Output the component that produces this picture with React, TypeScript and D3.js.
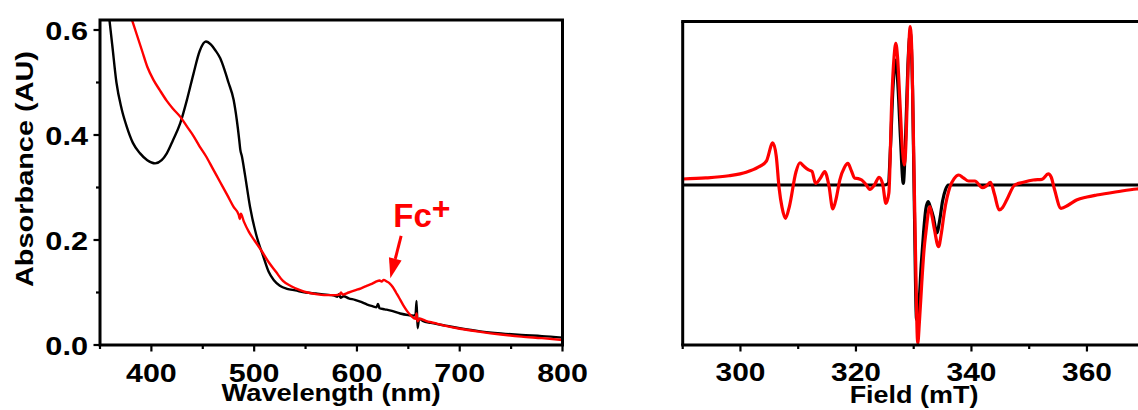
import React from "react";
import * as d3 from "d3";

// UV-vis spectra: neutral complex (black) and after oxidation with Fc+ (red)
const neutralNm = [358, 362, 366, 371, 376, 382, 389, 396, 403.6, 410, 415, 421, 428, 435, 441, 447, 453, 458, 462, 467, 471, 475, 480, 483, 485.5, 486.5, 488, 491, 496, 502, 509, 514, 519, 525, 532, 540, 550, 560, 570, 578, 581, 582.5, 584, 587, 592, 598, 604, 610, 615, 619, 620.5, 622, 627, 634, 642, 650, 655, 657, 658, 659, 660.5, 664, 672, 686, 700, 720, 740, 760, 780, 800];
const neutralAbs = [0.64, 0.57, 0.5, 0.45, 0.416, 0.385, 0.365, 0.352, 0.346, 0.352, 0.365, 0.39, 0.422, 0.47, 0.517, 0.56, 0.578, 0.572, 0.562, 0.546, 0.525, 0.5, 0.467, 0.43, 0.39, 0.372, 0.36, 0.325, 0.263, 0.21, 0.168, 0.14, 0.124, 0.113, 0.107, 0.104, 0.1, 0.098, 0.096, 0.094, 0.092, 0.097, 0.09, 0.093, 0.089, 0.086, 0.082, 0.077, 0.074, 0.072, 0.078, 0.07, 0.068, 0.065, 0.06, 0.057, 0.056, 0.058, 0.084, 0.032, 0.05, 0.046, 0.042, 0.037, 0.032, 0.026, 0.022, 0.019, 0.017, 0.014];

const oxidizedNm = [381, 386, 391, 396, 402, 408, 415, 421, 428, 435, 441, 447, 453, 460, 467, 474, 480, 485, 486, 487, 490, 495, 500, 507, 514, 521, 528, 536, 544, 552, 560, 568, 576, 583, 584.5, 586, 592, 598, 604, 610, 615, 619, 622, 624, 626, 629, 632, 635, 638, 641, 645, 649, 653, 657, 658, 659, 661, 667, 675, 685, 700, 720, 740, 760, 780, 800];
const oxidizedAbs = [0.62, 0.59, 0.56, 0.53, 0.505, 0.486, 0.465, 0.45, 0.435, 0.415, 0.398, 0.378, 0.36, 0.335, 0.31, 0.285, 0.263, 0.248, 0.24, 0.25, 0.235, 0.215, 0.2, 0.18, 0.158, 0.14, 0.122, 0.112, 0.105, 0.1, 0.097, 0.095, 0.095, 0.096, 0.1, 0.096, 0.1, 0.104, 0.108, 0.113, 0.117, 0.121, 0.123, 0.121, 0.124, 0.121, 0.117, 0.11, 0.1, 0.09, 0.076, 0.064, 0.055, 0.05, 0.06, 0.045, 0.05, 0.046, 0.042, 0.037, 0.031, 0.025, 0.02, 0.016, 0.013, 0.0095];

const uvMajorTicksX = [400, 500, 600, 700, 800];
const uvMinorTicksX = [350, 450, 550, 650, 750];
const uvMajorTicksY = [0, 0.2, 0.4, 0.6];
const uvMinorTicksY = [0.1, 0.3, 0.5];

// Annotation: arrow tail / tip and label anchor, in data units
const fcArrowNm = [643, 632.5];
const fcArrowAbs = [0.208, 0.127];
const fcLabelNm = 635.4;
const fcLabelAbs = 0.225;

// EPR spectra (arbitrary intensity)
const neutralField = [290, 325.0, 325.6, 326.0, 326.4, 326.9, 327.3, 327.7, 328.2, 328.6, 329.0, 329.4, 329.8, 330.1, 330.5, 330.9, 331.3, 331.7, 332.1, 332.5, 332.9, 333.4, 334.0, 334.5, 335.0, 335.5, 336.0, 372];
const neutralSignal = [0, 0, 0.01, 0.25, 0.6, 0.78, 0.6, 0.3, 0.01, 0.3, 0.75, 0.95, 0.6, -0.1, -0.84, -0.75, -0.5, -0.3, -0.15, -0.104, -0.14, -0.2, -0.3, -0.22, -0.1, -0.03, 0, 0];

const oxidizedField = [290, 294, 298, 301, 303, 304.5, 305.6, 306.2, 306.7, 307.2, 307.8, 308.5, 309.6, 310.3, 310.9, 311.8, 312.4, 313.0, 313.8, 314.6, 315.3, 316.0, 316.6, 317.2, 318.0, 318.6, 319.2, 319.8, 320.4, 321.0, 321.7, 322.4, 323.2, 324.0, 324.6, 325.2, 325.7, 326.2, 326.6, 326.9, 327.2, 327.6, 328.0, 328.4, 328.7, 329.0, 329.4, 329.7, 330.0, 330.3, 330.7, 331.0, 331.4, 331.8, 332.1, 332.8, 333.2, 333.6, 334.3, 334.8, 335.3, 336.3, 337.0, 337.8, 338.6, 339.5, 340.6, 341.9, 342.6, 343.3, 344.0, 344.8, 345.4, 346.1, 347.5, 349.0, 350.7, 352.2, 353.3, 353.8, 354.4, 355.5, 356.8, 358.2, 360.0, 361.7, 365.2, 368.6, 372];
const oxidizedSignal = [0.0375, 0.044, 0.058, 0.08, 0.11, 0.15, 0.264, 0.18, -0.02, -0.14, -0.208, -0.13, 0.08, 0.139, 0.12, 0.094, 0.085, 0.01, 0.04, 0.083, 0.0, -0.15, -0.08, 0.031, 0.11, 0.135, 0.09, 0.042, 0.04, 0.031, 0.005, -0.027, 0.0, 0.048, 0.01, -0.115, -0.05, 0.53, 0.8, 0.886, 0.8, 0.53, 0.25, 0.125, 0.3, 0.7, 0.99, 0.8, 0.2, -0.4, -0.99, -0.85, -0.61, -0.4, -0.3, -0.135, -0.2, -0.28, -0.385, -0.3, -0.17, -0.01, 0.04, 0.0625, 0.045, 0.025, 0.025, -0.017, -0.005, 0.017, -0.06, -0.156, -0.14, -0.094, 0.0, 0.017, 0.031, 0.035, 0.069, 0.05, -0.03, -0.146, -0.125, -0.094, -0.075, -0.0625, -0.042, -0.025, -0.02];

const eprMajorTicks = [300, 320, 340, 360];
const eprMinorTicks = [290, 310, 330, 350, 370];

const RED = "#ff0000";
const FONT = "'Liberation Sans', Arial, Helvetica, sans-serif";

function STxt(props: {
  x: number; y: number; size: number; sx: number; anchor?: string; rotate?: number;
  fill?: string; children: React.ReactNode;
}) {
  const { x, y, size, sx, anchor = "middle", rotate = 0, fill = "#000", children } = props;
  return (
    <text
      transform={`translate(${x},${y}) rotate(${rotate}) scale(${sx},1)`}
      textAnchor={anchor}
      fontFamily={FONT}
      fontWeight="bold"
      fontSize={size}
      fill={fill}
    >
      {children}
    </text>
  );
}

export default function App() {
  // ---- UV-vis panel ----
  const uvX = d3.scaleLinear().domain([350, 800]).range([100, 562.5]);
  const uvY = d3.scaleLinear().domain([0, 0.6]).range([345, 30]);
  const uvTop = 20;
  const uvLine = (xs: number[], ys: number[]) =>
    d3.line<number>().x((_, i) => uvX(xs[i])).y((_, i) => uvY(ys[i])).curve(d3.curveMonotoneX)(xs) || "";

  // ---- EPR panel ----
  const eprX = d3.scaleLinear().domain([290, 370]).range([682.7, 1144.7]);
  const eprY = d3.scaleLinear().domain([-1, 1]).range([345, 25]);
  const eprTop = 21.5;
  const eprLine = (xs: number[], ys: number[]) =>
    d3.line<number>().x((_, i) => eprX(xs[i])).y((_, i) => eprY(ys[i])).curve(d3.curveMonotoneX)(xs) || "";

  const ax0 = 345;

  const tipX = uvX(fcArrowNm[1]);
  const tipY = uvY(fcArrowAbs[1]);
  const tailX = uvX(fcArrowNm[0]);
  const tailY = uvY(fcArrowAbs[0]);
  const ang = Math.atan2(tipY - tailY, tipX - tailX);
  const headLen = 20;
  const headHalf = 6.5;
  const bx = tipX - headLen * Math.cos(ang);
  const by = tipY - headLen * Math.sin(ang);
  const px = -Math.sin(ang) * headHalf;
  const py = Math.cos(ang) * headHalf;

  return (
    <svg
      width={1138}
      height={410}
      style={{ position: "absolute", left: 0, top: 0, background: "#fff" }}
    >
      <rect x={0} y={0} width={1138} height={410} fill="#fff" />

      <defs>
        <clipPath id="uvClip">
          <rect x={uvX(350)} y={uvTop} width={uvX(800) - uvX(350)} height={ax0 - uvTop} />
        </clipPath>
        <clipPath id="eprClip">
          <rect x={eprX(290)} y={eprTop} width={eprX(370) - eprX(290)} height={ax0 - eprTop + 2} />
        </clipPath>
      </defs>

      {/* UV-vis spectra */}
      <g clipPath="url(#uvClip)">
        <path d={uvLine(neutralNm, neutralAbs)} fill="none" stroke="#000" strokeWidth={2.4} strokeLinejoin="round" />
        <path d={uvLine(oxidizedNm, oxidizedAbs)} fill="none" stroke={RED} strokeWidth={2.4} strokeLinejoin="round" />
      </g>
      <rect x={uvX(350)} y={uvTop} width={uvX(800) - uvX(350)} height={ax0 - uvTop} fill="none" stroke="#000" strokeWidth={3} />
      {uvMajorTicksX.map((t) => (
        <line key={"ux" + t} x1={uvX(t)} x2={uvX(t)} y1={ax0} y2={ax0 + 6.5} stroke="#000" strokeWidth={2.2} />
      ))}
      {uvMinorTicksX.map((t) => (
        <line key={"umx" + t} x1={uvX(t)} x2={uvX(t)} y1={ax0} y2={ax0 + 4} stroke="#000" strokeWidth={2.2} />
      ))}
      {uvMajorTicksY.map((t) => (
        <line key={"uy" + t} x1={uvX(350) - 6.5} x2={uvX(350)} y1={uvY(t)} y2={uvY(t)} stroke="#000" strokeWidth={2.2} />
      ))}
      {uvMinorTicksY.map((t) => (
        <line key={"umy" + t} x1={uvX(350) - 4} x2={uvX(350)} y1={uvY(t)} y2={uvY(t)} stroke="#000" strokeWidth={2.2} />
      ))}
      {uvMajorTicksX.map((t) => (
        <STxt key={"uxl" + t} x={uvX(t)} y={382} size={26} sx={1.17}>{t}</STxt>
      ))}
      {uvMajorTicksY.map((t) => (
        <STxt key={"uyl" + t} x={88} y={uvY(t) + 9.5} size={26} sx={1.18} anchor="end">{t.toFixed(1)}</STxt>
      ))}
      <STxt x={331} y={401} size={24} sx={1.14}>Wavelength (nm)</STxt>
      <STxt x={33} y={169} size={24.5} sx={1.18} rotate={-90}>Absorbance (AU)</STxt>

      {/* Fc+ annotation */}
      <line x1={tailX} y1={tailY} x2={bx} y2={by} stroke={RED} strokeWidth={3} />
      <path d={`M${tipX},${tipY}L${bx + px},${by + py}L${bx - px},${by - py}Z`} fill={RED} />
      <text x={uvX(fcLabelNm)} y={uvY(fcLabelAbs)} fontFamily={FONT} fontWeight="bold" fontSize={33} fill={RED}>
        Fc
        <tspan fontSize={32} dy={-8}>+</tspan>
      </text>

      {/* EPR spectra */}
      <g clipPath="url(#eprClip)">
        <path d={eprLine(neutralField, neutralSignal)} fill="none" stroke="#000" strokeWidth={3.2} strokeLinejoin="round" />
        <path d={eprLine(oxidizedField, oxidizedSignal)} fill="none" stroke={RED} strokeWidth={3.2} strokeLinejoin="round" />
      </g>
      <line x1={eprX(290)} x2={eprX(290)} y1={eprTop} y2={ax0} stroke="#000" strokeWidth={3} />
      <line x1={eprX(290) - 1.5} x2={1138} y1={eprTop} y2={eprTop} stroke="#000" strokeWidth={3} />
      <line x1={eprX(290) - 1.5} x2={1138} y1={ax0} y2={ax0} stroke="#000" strokeWidth={3} />
      {eprMajorTicks.map((t) => (
        <line key={"ex" + t} x1={eprX(t)} x2={eprX(t)} y1={ax0} y2={ax0 + 6.5} stroke="#000" strokeWidth={2.2} />
      ))}
      {eprMinorTicks.map((t) => (
        <line key={"emx" + t} x1={eprX(t)} x2={eprX(t)} y1={ax0} y2={ax0 + 4} stroke="#000" strokeWidth={2.2} />
      ))}
      {eprMajorTicks.map((t) => (
        <STxt key={"exl" + t} x={eprX(t)} y={381} size={26} sx={1.15}>{t}</STxt>
      ))}
      <STxt x={914} y={403} size={24.5} sx={1.1}>Field (mT)</STxt>
    </svg>
  );
}
